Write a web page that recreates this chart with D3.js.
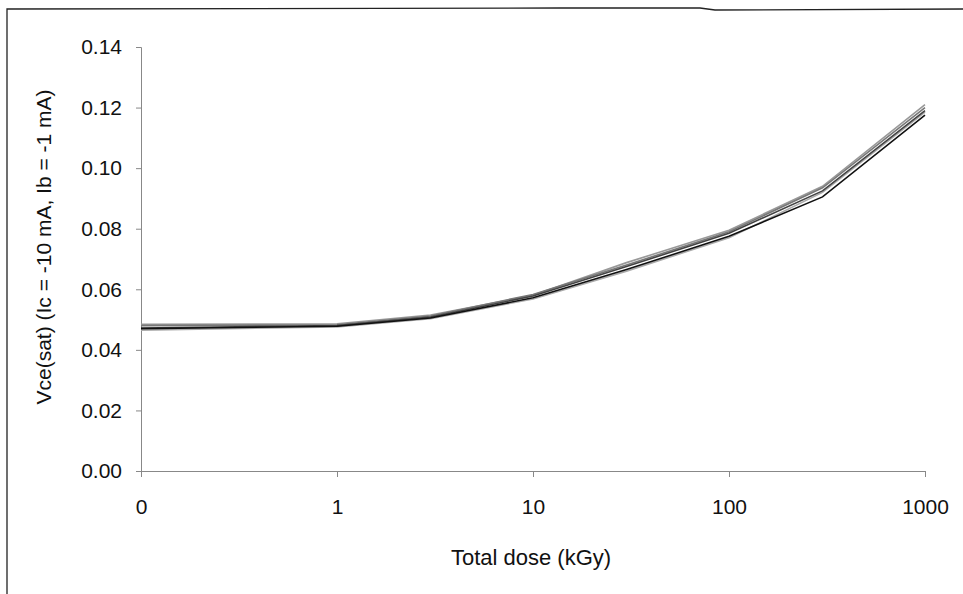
<html>
<script src="https://d3js.org/d3.v7.min.js"></script>
<style>
  body { margin: 0; background: white; }
  text { font-family: "Liberation Sans", Arial, sans-serif; fill: #111; }
  .axis path, .axis line { stroke: #888; }
</style>
<body>
<div id="chart"></div>
<script>
  // dose points (kGy); 0 is plotted at 0.1 on the log axis
  var doses = [0.1, 1, 3, 10, 30, 100, 300, 1000];
  var xTicks = [0.1, 1, 10, 100, 1000];
  var xTickLabels = ["0", "1", "10", "100", "1000"];
  var yTicks = [0, 0.02, 0.04, 0.06, 0.08, 0.10, 0.12, 0.14];

  var sample1 = [0.0470, 0.0478, 0.0505, 0.0572, 0.0665, 0.0775, 0.0905, 0.1175];
  var sample2 = [0.0472, 0.0480, 0.0508, 0.0578, 0.0675, 0.0785, 0.0925, 0.1190];
  var sample3 = [0.0480, 0.0483, 0.0512, 0.0583, 0.0680, 0.0790, 0.0935, 0.1200];
  var sample4 = [0.0484, 0.0486, 0.0515, 0.0580, 0.0688, 0.0795, 0.0940, 0.1210];
  var sample5 = [0.0465, 0.0476, 0.0503, 0.0568, 0.0660, 0.0770, 0.0920, 0.1185];
  var samples = [sample5, sample4, sample3, sample2, sample1];
  var colors = ["#aaa", "#999", "#777", "#444", "#111"];

  var width = 963, height = 594;
  var svg = d3.select("#chart").append("svg")
    .attr("width", width).attr("height", height);

  // scanned frame
  svg.append("path")
    .attr("d", "M7,594 L7,9 L560,8 L700,8 L715,10 L963,9")
    .attr("fill", "none").attr("stroke", "#222").attr("stroke-width", 1.3);

  var x = d3.scaleLog().domain([0.1, 1000]).range([141, 925]);
  var y = d3.scaleLinear().domain([0, 0.14]).range([471, 47]);

  var xAxis = svg.append("g").attr("class", "axis")
    .attr("transform", "translate(0,471)")
    .call(d3.axisBottom(x).tickValues(xTicks).tickSize(6)
      .tickFormat(function (d, i) { return xTickLabels[i]; }));
  xAxis.selectAll("text").attr("y", 36).attr("dy", "0.35em").style("font-size", "21px");

  var yAxis = svg.append("g").attr("class", "axis")
    .attr("transform", "translate(141,0)")
    .call(d3.axisLeft(y).tickValues(yTicks).tickSize(5).tickFormat(d3.format(".2f")));
  yAxis.selectAll("text").attr("x", -19).style("font-size", "21px");
  svg.selectAll(".axis .domain").attr("stroke", "#888");

  var line = d3.line()
    .x(function (d, i) { return x(doses[i]); })
    .y(function (d) { return y(d); });

  svg.selectAll(".series")
    .data(samples)
    .enter()
    .append("path")
    .attr("class", "series")
    .attr("d", line)
    .attr("fill", "none")
    .attr("stroke", function (d, i) { return colors[i]; })
    .attr("stroke-width", 1.6);

  svg.append("text")
    .attr("x", 531).attr("y", 565)
    .style("text-anchor", "middle").style("font-size", "22px")
    .text("Total dose (kGy)");

  svg.append("text")
    .attr("transform", "translate(51,247) rotate(-90)")
    .style("text-anchor", "middle").style("font-size", "21px")
    .text("Vce(sat) (Ic = -10 mA, Ib = -1 mA)");
</script>
</body>
</html>
